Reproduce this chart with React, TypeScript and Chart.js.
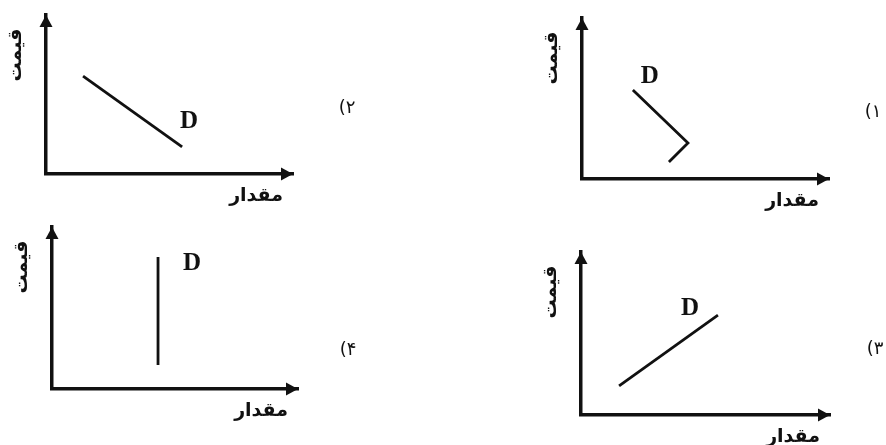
import React, { useEffect, useRef } from "react";
import { Chart, registerables } from "chart.js";

Chart.register(...registerables);

// ---- texts ----
const optionLabels = ["۱)", "۲)", "۳)", "۴)"];
const xAxisLabel = "مقدار";
const yAxisLabel = "قیمت";
const curveLabel = "D";

// ---- values (quantity on x, price on y, 0..10 units) ----
// option 1: kinked demand curve
const quantity1 = [2.06, 4.29, 3.52];
const price1 = [5.53, 2.24, 1.06];
// option 2: downward sloping
const quantity2 = [1.5, 5.51];
const price2 = [6.16, 1.7];
// option 3: upward sloping
const quantity3 = [1.53, 5.5];
const price3 = [1.78, 6.13];
// option 4: vertical
const quantity4 = [4.31, 4.31];
const price4 = [8.15, 1.48];

const axisMin = 0;
const axisMax = 10;

type Panel = {
  q: number[];
  p: number[];
  label: string;
  left: number;
  top: number;
  w: number;
  h: number;
  pad: { left: number; right: number; top: number; bottom: number };
  d: { i: number; dx: number; dy: number };
  opt: { x: number; y: number };
};

const panels: Panel[] = [
  {
    q: quantity2, p: price2, label: optionLabels[1],
    left: 0, top: 0, w: 443, h: 222,
    pad: { left: 46, right: 150, top: 15, bottom: 48 },
    d: { i: 1, dx: 7, dy: -25 },
    opt: { x: 347, y: 108 },
  },
  {
    q: quantity1, p: price1, label: optionLabels[0],
    left: 443, top: 0, w: 443, h: 222,
    pad: { left: 139, right: 57, top: 18, bottom: 43 },
    d: { i: 0, dx: 17, dy: -13 },
    opt: { x: 430, y: 112 },
  },
  {
    q: quantity4, p: price4, label: optionLabels[3],
    left: 0, top: 222, w: 443, h: 223,
    pad: { left: 52, right: 145, top: 5, bottom: 56 },
    d: { i: 0, dx: 34, dy: 7 },
    opt: { x: 348, y: 128 },
  },
  {
    q: quantity3, p: price3, label: optionLabels[2],
    left: 443, top: 222, w: 443, h: 223,
    pad: { left: 138, right: 56, top: 30, bottom: 30 },
    d: { i: 1, dx: -28, dy: -7 },
    opt: { x: 432, y: 127 },
  },
];

const INK = "#111";

const decorPlugin = {
  id: "decor",
  afterDraw(chart: any, _args: any, opts: any) {
    const { ctx, chartArea } = chart;
    const { left, right, top, bottom } = chartArea;
    ctx.save();
    ctx.fillStyle = INK;
    // arrow heads
    ctx.beginPath();
    ctx.moveTo(right, bottom);
    ctx.lineTo(right - 12, bottom - 6.5);
    ctx.lineTo(right - 12, bottom + 6.5);
    ctx.closePath();
    ctx.fill();
    ctx.beginPath();
    ctx.moveTo(left, top);
    ctx.lineTo(left - 6.5, top + 12);
    ctx.lineTo(left + 6.5, top + 12);
    ctx.closePath();
    ctx.fill();

    // axis titles
    ctx.direction = "rtl";
    ctx.font = 'bold 19px "DejaVu Sans"';
    ctx.textBaseline = "middle";
    ctx.textAlign = "right";
    ctx.fillText(xAxisLabel, right - 10, bottom + 22);

    ctx.save();
    ctx.translate(left - 30, top + 40);
    ctx.rotate(-Math.PI / 2);
    ctx.textAlign = "center";
    ctx.fillText(yAxisLabel, 0, 0);
    ctx.restore();

    // option label
    ctx.font = '18px "DejaVu Sans"';
    ctx.textAlign = "center";
    ctx.fillText(opts.label, opts.opt.x, opts.opt.y);

    // curve label
    const meta = chart.getDatasetMeta(0);
    const pt = meta.data[opts.d.i];
    if (pt) {
      ctx.direction = "ltr";
      ctx.font = 'bold 25px "Liberation Serif"';
      ctx.textAlign = "center";
      ctx.fillText(curveLabel, pt.x + opts.d.dx, pt.y + opts.d.dy);
    }
    ctx.restore();
  },
};

function PanelChart({ panel }: { panel: Panel }) {
  const ref = useRef<HTMLCanvasElement | null>(null);
  useEffect(() => {
    if (!ref.current) return;
    const axis = {
      type: "linear" as const,
      min: axisMin,
      max: axisMax,
      display: true,
      ticks: { display: false },
      grid: { display: false, drawTicks: false, tickLength: 0 },
      border: { display: true, color: INK, width: 3.5 },
      title: { display: false },
    };
    const chart = new Chart(ref.current, {
      type: "scatter",
      data: {
        datasets: [
          {
            label: curveLabel,
            data: panel.q.map((x, i) => ({ x, y: panel.p[i] })),
            showLine: true,
            borderColor: INK,
            borderWidth: 2.8,
            pointRadius: 0,
            tension: 0,
            borderJoinStyle: "miter",
            clip: false,
          } as any,
        ],
      },
      options: {
        animation: false,
        responsive: false,
        events: [],
        layout: { padding: panel.pad, autoPadding: false },
        scales: { x: axis, y: axis },
        plugins: {
          legend: { display: false },
          tooltip: { enabled: false },
          decor: { label: panel.label, d: panel.d, opt: panel.opt },
        } as any,
      },
      plugins: [decorPlugin],
    });
    return () => chart.destroy();
  }, [panel]);
  return (
    <canvas
      ref={ref}
      width={panel.w}
      height={panel.h}
      style={{ position: "absolute", left: panel.left, top: panel.top, width: panel.w, height: panel.h }}
    />
  );
}

export default function App() {
  return (
    <div style={{ position: "absolute", left: 0, top: 0, width: 886, height: 445, background: "#fff", overflow: "hidden" }}>
      {panels.map((p, i) => (
        <PanelChart key={i} panel={p} />
      ))}
    </div>
  );
}
